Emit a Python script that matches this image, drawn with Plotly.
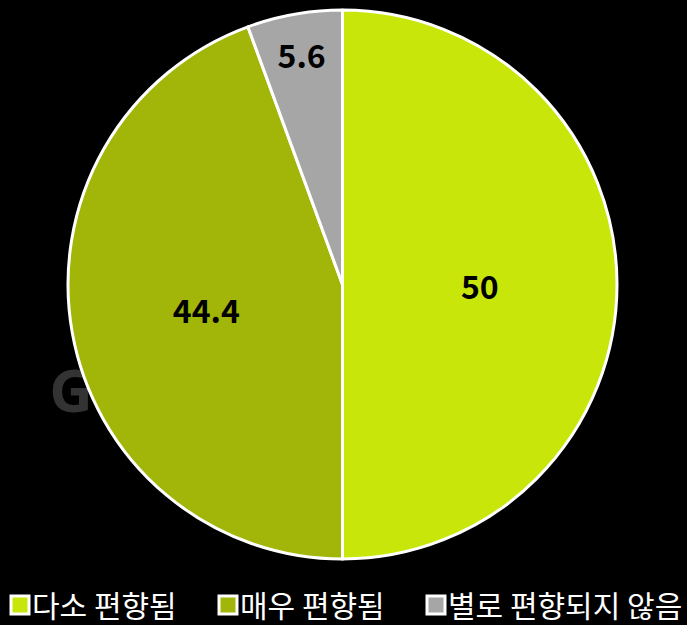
import plotly.graph_objects as go

labels = ["다소 편향됨", "매우 편향됨", "별로 편향되지 않음"]
values = [50, 44.4, 5.6]
colors = ["#c8e60a", "#a2b509", "#a6a6a6"]

W, H = 687, 625
fig = go.Figure()
fig.add_trace(go.Pie(
    labels=labels, values=values, sort=False, direction="clockwise", rotation=0,
    marker=dict(colors=colors, line=dict(color="white", width=3)),
    textinfo="value", textposition="inside", insidetextorientation="horizontal",
    textfont=dict(family="Noto Sans CJK KR", size=32, color="black", weight="bold"),
    domain=dict(x=[68 / W, 617 / W], y=[(H - 559) / H, (H - 10) / H]),
    hoverinfo="label+value",
))
fig.add_shape(type="rect", xref="paper", yref="paper",
              x0=36 / W, x1=106 / W, y0=1 - 430 / H, y1=1 - 355 / H,
              line=dict(width=0), fillcolor="rgba(0,0,0,0)", layer="below",
              label=dict(text="G", font=dict(family="Noto Sans", size=60, color="#333333", weight="bold"),
                         textposition="middle center"))
fig.update_layout(
    width=W, height=H, paper_bgcolor="black", plot_bgcolor="black",
    margin=dict(l=0, r=0, t=0, b=0),
    showlegend=True,
    legend=dict(orientation="h", x=0, y=0, xanchor="left", yanchor="bottom",
                font=dict(family="Noto Sans CJK KR", size=30, color="white"),
                itemwidth=30, entrywidth=163, tracegroupgap=0, bgcolor="rgba(0,0,0,0)"),
)
post = """
document.body.style.margin='0';document.body.style.background='black';
var st=document.createElement('style');
st.textContent='.legend *{clip-path:none !important;}'+
 '.legend .scrollbox{transform:translate(0px,6px);}'+
 '.legend .legendtext{transform:translate(-8px,0px);}'+
 '.legend .legendpie{d:path(\"M9,9H-9V-9H9Z\");}';
document.head.appendChild(st);
"""
fig.write_html("out.html", post_script=post, config={"displayModeBar": False})
